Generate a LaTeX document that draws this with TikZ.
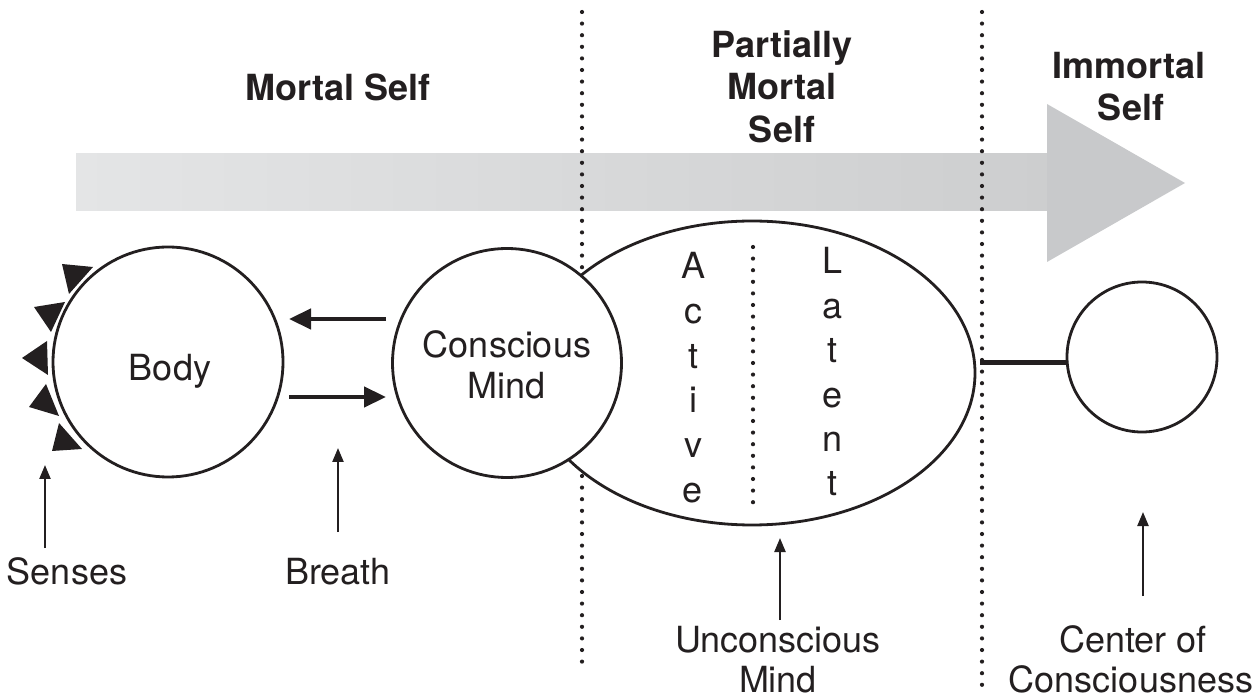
\documentclass[tikz,border=0pt]{standalone}
\usepackage{fontspec}
\setmainfont{TeX Gyre Heros}
\usetikzlibrary{arrows.meta,shapes.geometric}
\definecolor{arrowL}{HTML}{E4E5E6}
\definecolor{arrowR}{HTML}{CDCECF}
\definecolor{arrowH}{HTML}{C8C9CB}
\definecolor{ink}{HTML}{231F20}
\begin{document}
\begin{tikzpicture}[x=1pt,y=-1pt,
  lbl/.style={font=\fontsize{36}{41}\selectfont, text=ink, inner sep=0, anchor=base},
  ttl/.style={font=\fontsize{36}{42}\selectfont\bfseries, text=ink, inner sep=0, anchor=base},
  ring/.style={draw=ink, line width=2.8pt, fill=white, circle, inner sep=0},
  dotline/.style={draw=ink, line width=4.2pt, line cap=round, dash pattern=on 0pt off 11.6pt},
  bigarr/.style={draw=ink, line width=4.5pt, -{Triangle[length=22pt,width=20pt]}},
  thinarr/.style={draw=ink, line width=2.3pt, -{Triangle[length=14pt,width=11pt]}},
]
\useasboundingbox (0,0) rectangle (1259,700);
% big gradient arrow
\fill[left color=arrowL, right color=arrowR] (76,154) rectangle (1048,211);
\fill[arrowH] (1047,104) -- (1185,183) -- (1047,262) -- cycle;
% dotted dividers
\coordinate (d1t) at (582,12); \coordinate (d1b) at (582,668);
\coordinate (d2t) at (982,12); \coordinate (d2b) at (982,690);
\draw[dotline] (d1t) -- (d1b);
\draw[dotline] (d2t) -- (d2b);
% unconscious mind ellipse
\node[ellipse, draw=ink, line width=2.8pt, fill=white, minimum width=446pt, minimum height=304pt, inner sep=0] (um) at (752,373) {};
\coordinate (d3t) at (753,247); \coordinate (d3b) at (753,513);
\draw[dotline] (d3t) -- (d3b);
% circles
\node[ring, minimum size=230pt] (body) at (168,362) {};
\node[ring, minimum size=229pt] (cm) at (507,363) {};
\node[ring, minimum size=150pt] (cc) at (1142,357) {};
% senses triangles
\fill[ink] (62,264) -- (93,267) -- (69,294) -- cycle;
\fill[ink] (34,307) -- (65,302) -- (51,332) -- cycle;
\fill[ink] (22,358) -- (47,341) -- (48,375) -- cycle;
\fill[ink] (29,407) -- (46,384) -- (59,416) -- cycle;
\fill[ink] (52,451) -- (59,423) -- (82,449) -- cycle;
% body <-> mind arrows
\coordinate (ta) at (386,319); \coordinate (tb) at (289,319);
\coordinate (ba) at (289,397); \coordinate (bb) at (386,397);
\draw[bigarr] (ta) -- (tb);
\draw[bigarr] (ba) -- (bb);
% link to center of consciousness
\coordinate (lk) at (980,363);
\draw[draw=ink, line width=5pt] (lk) -- (lk -| cc.west);
% pointer arrows
\coordinate (s1) at (45,548); \coordinate (s2) at (45,465);
\coordinate (b1) at (338,532); \coordinate (b2) at (338,448);
\coordinate (u1) at (780,620); \coordinate (u2) at (780,538);
\coordinate (c1) at (1143,596); \coordinate (c2) at (1143,512);
\draw[thinarr] (s1) -- (s2);
\draw[thinarr] (b1) -- (b2);
\draw[thinarr] (u1) -- (u2);
\draw[thinarr] (c1) -- (c2);
% titles
\node[ttl] (t1) at (338,101) {Mortal Self};
\node[ttl] (t2a) at (782,58) {Partially};
\node[ttl] (t2b) at (782,100) {Mortal};
\node[ttl] (t2c) at (782,143) {Self};
\node[ttl] (t3a) at (1129,79) {Immortal};
\node[ttl] (t3b) at (1131,121) {Self};
% labels
\node[lbl] (bodyt) at (170,381) {Body};
\node[lbl] (cma) at (507,358) {Conscious};
\node[lbl] (cmb) at (507,399) {Mind};
\foreach \ch [count=\k from 0] in {A,c,t,i,v,e}
  \node[lbl] (act\k) at (693,279+44.6*\k) {\ch};
\foreach \ch [count=\k from 0] in {L,a,t,e,n,t}
  \node[lbl] (lat\k) at (832,274+44.4*\k) {\ch};
\node[lbl] (sen) at (67,584) {Senses};
\node[lbl] (bre) at (338,584) {Breath};
\node[lbl] (una) at (778,652) {Unconscious};
\node[lbl] (unb) at (778,692) {Mind};
\node[lbl] (cca) at (1133,652) {Center of};
\node[lbl] (ccb) at (1131,692) {Consciousness};
\end{tikzpicture}
\end{document}
